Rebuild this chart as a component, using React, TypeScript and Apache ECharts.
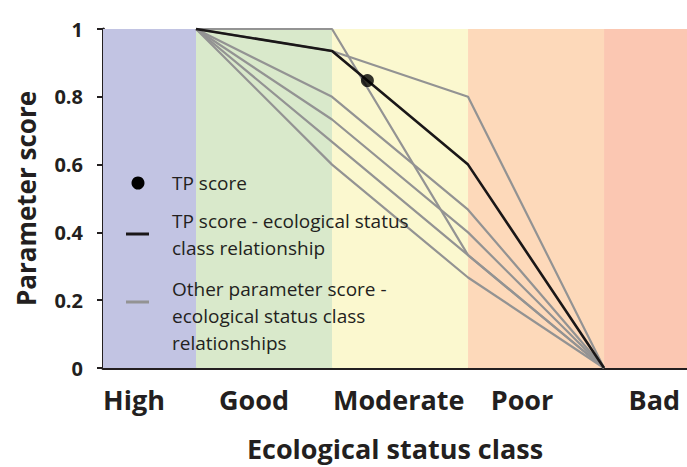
import React, { useEffect, useRef } from "react";
import * as echarts from "echarts";

// ---- data ----
const CATEGORIES = ["High", "Good", "Moderate", "Poor", "Bad"];
// class-boundary positions on the hidden x scale (High | Good | Moderate | Poor | Bad)
const BAND_EDGES = [0.316, 1, 2, 3, 4, 4.61];
const BAND_COLORS = ["#c2c4e3", "#d9e9cb", "#fbf8cf", "#fdd9ba", "#fbc7b2"];
// where each class label sits on the x scale
const LABEL_POS = [0.544, 1.426, 2.49, 3.397, 4.37];
// x positions at which each relationship is defined
const REL_X = [1, 2, 3, 4];
const TP_REL = [1, 0.935, 0.6, 0];
const OTHER_RELS = [
  [1, 0.935, 0.8, 0],
  [1, 1, 0.333, 0],
  [1, 0.8, 0.467, 0],
  [1, 0.733, 0.4, 0],
  [1, 0.667, 0.333, 0],
  [1, 0.6, 0.267, 0],
];
const TP_SCORE = [2.26, 0.848];

const LEGEND_TP = "TP score";
const LEGEND_TP_REL = "TP score - ecological status\nclass relationship";
const LEGEND_OTHER = "Other parameter score -\necological status class\nrelationships";

const FONT = "'Open Sans', 'Noto Sans', sans-serif";
const INK = "#231f20";
const GRAY = "#939393";

export default function App() {
  const ref = useRef<HTMLDivElement>(null);

  useEffect(() => {
    if (!ref.current) return;
    const chart = echarts.init(ref.current, undefined, { renderer: "svg" });

    const toPairs = (ys: number[]) => ys.map((y, i) => [REL_X[i], y]);

    const bandData = CATEGORIES.map((c, i) => [
      { xAxis: BAND_EDGES[i], itemStyle: { color: BAND_COLORS[i], opacity: 1 } },
      { xAxis: BAND_EDGES[i + 1] },
    ]);

    const series: any[] = [
      {
        type: "line",
        data: [],
        z: 1,
        silent: true,
        markArea: { silent: true, data: bandData, label: { show: false } },
      },
      ...OTHER_RELS.map((r) => ({
        type: "line",
        data: toPairs(r),
        symbol: "none",
        clip: false,
        z: 3,
        silent: true,
        lineStyle: { color: GRAY, width: 2.2 },
      })),
      {
        type: "line",
        data: toPairs(TP_REL),
        symbol: "none",
        clip: false,
        z: 4,
        silent: true,
        lineStyle: { color: "#1a1718", width: 2.6 },
      },
      {
        type: "scatter",
        data: [TP_SCORE],
        symbolSize: 13,
        z: 5,
        silent: true,
        itemStyle: { color: "#000" },
      },
    ];

    chart.setOption({
      animation: false,
      grid: { left: 103, right: 0, top: 29, bottom: 96, containLabel: false },
      xAxis: {
        type: "value",
        min: BAND_EDGES[0],
        max: BAND_EDGES[BAND_EDGES.length - 1],
        splitLine: { show: false },
        axisTick: { show: false },
        axisLine: { show: true, onZero: false, lineStyle: { color: INK, width: 3 } },
        axisLabel: {
          customValues: LABEL_POS,
          margin: 18,
          fontFamily: FONT,
          fontWeight: "bold",
          fontSize: 27,
          color: INK,
          formatter: (v: number) => {
            let best = 0;
            LABEL_POS.forEach((p, i) => {
              if (Math.abs(p - v) < Math.abs(LABEL_POS[best] - v)) best = i;
            });
            return CATEGORIES[best];
          },
        },
        name: "Ecological status class",
        nameLocation: "middle",
        nameGap: 67,
        nameTextStyle: { fontFamily: FONT, fontWeight: "bold", fontSize: 27, color: INK },
      },
      yAxis: {
        type: "value",
        min: 0,
        max: 1,
        interval: 0.2,
        splitLine: { show: false },
        axisLine: { show: true, lineStyle: { color: INK, width: 3 } },
        axisTick: { show: true, length: 6, lineStyle: { color: INK, width: 2 } },
        axisLabel: {
          margin: 20,
          fontFamily: FONT,
          fontWeight: "bold",
          fontSize: 20,
          color: INK,
        },
        name: "Parameter score",
        nameLocation: "middle",
        nameGap: 64,
        nameTextStyle: { fontFamily: FONT, fontWeight: "bold", fontSize: 26, color: INK },
      },
      series,
      graphic: [
        { type: "circle", shape: { cx: 138, cy: 183, r: 6.5 }, style: { fill: "#000" }, z: 10, silent: true },
        {
          type: "text", x: 172, y: 183, z: 10, silent: true,
          style: { text: LEGEND_TP, font: `19px ${FONT}`, fill: INK, verticalAlign: "middle" },
        },
        {
          type: "line", shape: { x1: 126, y1: 234, x2: 149, y2: 234 }, z: 10, silent: true,
          style: { stroke: "#1a1718", lineWidth: 3 },
        },
        {
          type: "text", x: 172, y: 234, z: 10, silent: true,
          style: { text: LEGEND_TP_REL, font: `19px ${FONT}`, fill: INK, verticalAlign: "middle", lineHeight: 27 },
        },
        {
          type: "line", shape: { x1: 126, y1: 302, x2: 149, y2: 302 }, z: 10, silent: true,
          style: { stroke: GRAY, lineWidth: 3 },
        },
        {
          type: "text", x: 172, y: 316, z: 10, silent: true,
          style: { text: LEGEND_OTHER, font: `19px ${FONT}`, fill: INK, verticalAlign: "middle", lineHeight: 27 },
        },
      ],
    });

    return () => chart.dispose();
  }, []);

  return (
    <div
      ref={ref}
      style={{ position: "absolute", left: 0, top: 0, width: 687, height: 467, background: "#fff" }}
    />
  );
}
